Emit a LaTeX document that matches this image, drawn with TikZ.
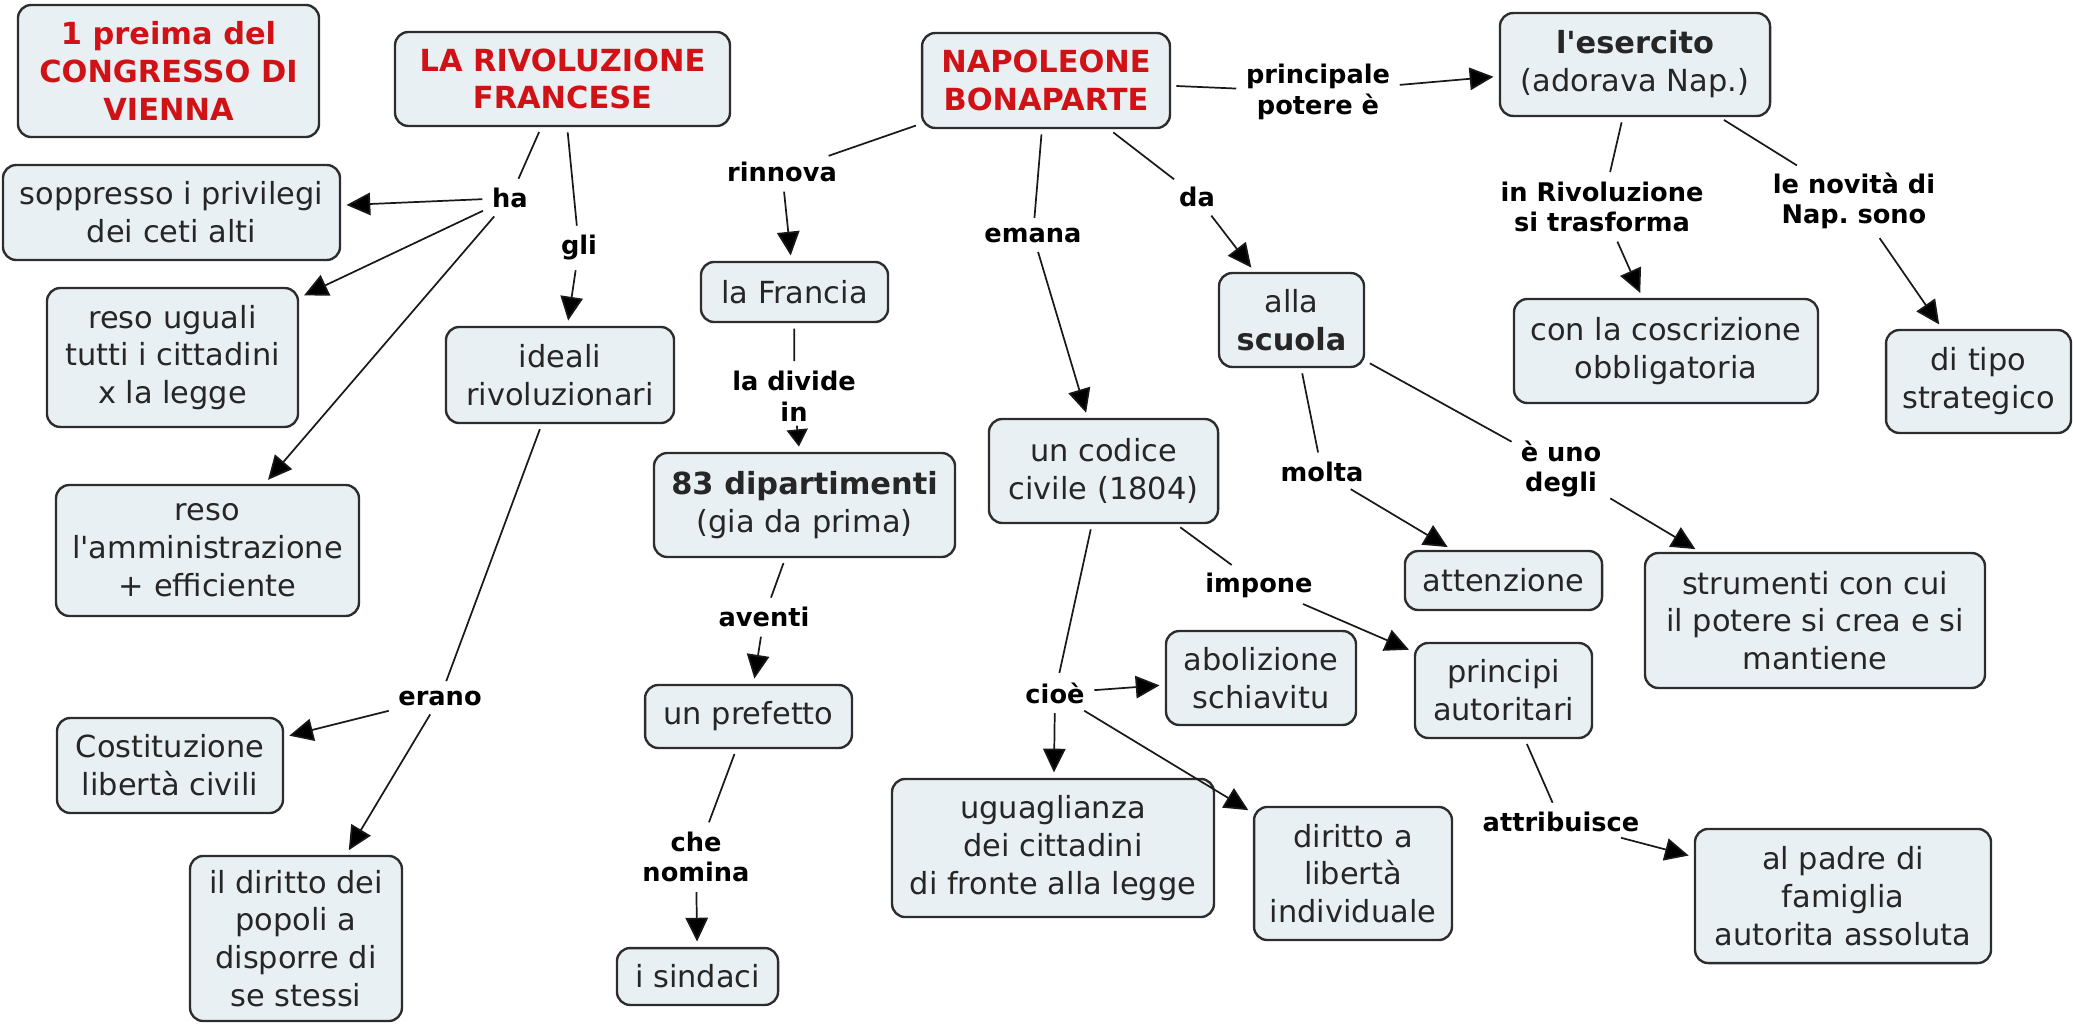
\documentclass[tikz,border=0pt]{standalone}
\usepackage{fontspec}
\setmainfont{DejaVu Sans}
\usetikzlibrary{arrows.meta}
\definecolor{cmapfill}{RGB}{233,240,244}
\definecolor{cmapred}{RGB}{208,18,22}
\definecolor{cmapline}{RGB}{45,45,45}

\begin{document}
\begin{tikzpicture}[x=0.378pt, y=-0.378pt,
    concept/.style={draw=cmapline, fill=cmapfill, line width=0.9pt, rounded corners=5pt,
        align=center, inner sep=2pt, text=black!85, font=\fontsize{11.5}{14.3}\selectfont},
    topic/.style={concept, text=cmapred, font=\fontsize{11.5}{14.3}\selectfont\bfseries},
    linkname/.style={align=center, inner sep=1.5pt, font=\fontsize{9.7}{11.6}\selectfont\bfseries},
    link/.style={draw=black!90, line width=0.65pt, shorten <=2pt, shorten >=2pt},
    linkarrow/.style={link, -{Triangle[length=9pt, width=8.5pt]}}]
    \useasboundingbox (0,0) rectangle (2073,1024);

    \node[topic, minimum width=113.8pt, minimum height=49.9pt] (preima) at (168.5,71) {1 preima del\\CONGRESSO DI\\VIENNA};
    \node[topic, minimum width=126.6pt, minimum height=35.5pt] (rivfr) at (562.5,79) {LA RIVOLUZIONE\\FRANCESE};
    \node[topic, minimum width=93.7pt, minimum height=35.9pt] (napo) at (1046,80.5) {NAPOLEONE\\BONAPARTE};
    \node[concept, minimum width=102.1pt, minimum height=38.9pt] (esercito) at (1635,64.5) {\textbf{l\textquotesingle esercito}\\(adorava Nap.)};

    \node[concept, minimum width=127.4pt, minimum height=35.9pt] (sopp) at (171.5,212.5) {soppresso i privilegi\\dei ceti alti};
    \node[concept, minimum width=94.9pt, minimum height=52.5pt] (uguali) at (172.5,357.5) {reso uguali\\tutti i cittadini\\x la legge};
    \node[concept, minimum width=114.5pt, minimum height=49.5pt] (ammin) at (207.5,550.5) {reso\\l\textquotesingle amministrazione\\+ efficiente};
    \node[concept, minimum width=86.2pt, minimum height=36.3pt] (ideali) at (560,375) {ideali\\rivoluzionari};
    \node[concept, minimum width=85.4pt, minimum height=35.9pt] (costit) at (170,765.5) {Costituzione\\libertà civili};
    \node[concept, minimum width=80.1pt, minimum height=62.4pt] (popoli) at (296,938.5) {il diritto dei\\popoli a\\disporre di\\se stessi};

    \node[concept, minimum width=70.7pt, minimum height=22.7pt] (francia) at (794.5,292) {la Francia};
    \node[concept, minimum width=113.8pt, minimum height=39.3pt] (dip) at (804.5,505) {\textbf{83 dipartimenti}\\(gia da prima)};
    \node[concept, minimum width=78.2pt, minimum height=23.8pt] (prefetto) at (748.5,716.5) {un prefetto};
    \node[concept, minimum width=60.9pt, minimum height=21.5pt] (sindaci) at (697.5,976.5) {i sindaci};

    \node[concept, minimum width=86.6pt, minimum height=39.3pt] (codice) at (1103.5,471) {un codice\\civile (1804)};
    \node[concept, minimum width=71.8pt, minimum height=35.5pt] (abol) at (1261,678) {abolizione\\schiavitu};
    \node[concept, minimum width=121.7pt, minimum height=52.2pt] (uguagl) at (1053,848) {uguaglianza\\dei cittadini\\di fronte alla legge};
    \node[concept, minimum width=74.8pt, minimum height=50.3pt] (liberta) at (1353,873.5) {diritto a\\libertà\\individuale};
    \node[concept, minimum width=66.9pt, minimum height=35.9pt] (princ) at (1503.5,690.5) {principi\\autoritari};
    \node[concept, minimum width=111.9pt, minimum height=50.7pt] (padre) at (1843,896) {al padre di\\famiglia\\autorita assoluta};

    \node[concept, minimum width=54.8pt, minimum height=35.5pt] (scuola) at (1291.5,320) {alla\\\textbf{scuola}};
    \node[concept, minimum width=74.5pt, minimum height=22.3pt] (attenz) at (1503.5,580.5) {attenzione};
    \node[concept, minimum width=128.5pt, minimum height=51pt] (strum) at (1815,620.5) {strumenti con cui\\il potere si crea e si\\mantiene};
    \node[concept, minimum width=114.9pt, minimum height=39.3pt] (coscr) at (1666,351) {con la coscrizione\\obbligatoria};
    \node[concept, minimum width=69.9pt, minimum height=38.9pt] (strateg) at (1978.5,381.5) {di tipo\\strategico};

    \node[linkname] (ha) at (510,198) {ha};
    \node[linkname] (gli) at (579,248) {gli};
    \node[linkname] (erano) at (440,698) {erano};
    \node[linkname] (rinnova) at (782,172) {rinnova};
    \node[linkname] (divide) at (794,396) {la divide\\in};
    \node[linkname] (aventi) at (764,617) {aventi};
    \node[linkname] (nomina) at (696,857) {che\\nomina};
    \node[linkname] (emana) at (1033,235) {emana};
    \node[linkname] (da) at (1197,197) {da};
    \node[linkname] (potere) at (1318,92) {principale\\potere è};
    \node[linkname] (trasforma) at (1602,207) {in Rivoluzione\\si trasforma};
    \node[linkname] (novita) at (1854,201) {le novità di\\Nap.\ sono};
    \node[linkname] (molta) at (1322,472) {molta};
    \node[linkname] (uno) at (1561,469) {è uno\\degli};
    \node[linkname] (impone) at (1259,585) {impone};
    \node[linkname] (cioe) at (1055,693) {cioè};
    \node[linkname] (attrib) at (1561,822) {attribuisce};

    \path[link]
        (rivfr) edge (ha)
        (rivfr) edge (gli)
        (ideali) edge (erano)
        (napo) edge (rinnova)
        (francia) edge (divide)
        (dip) edge (aventi)
        (prefetto) edge (nomina)
        (napo) edge (emana)
        (napo) edge (da)
        (napo) edge (potere)
        (esercito) edge (trasforma)
        (esercito) edge (novita)
        (scuola) edge (molta)
        (scuola) edge (uno)
        (codice) edge (impone)
        (codice) edge (cioe)
        (princ) edge (attrib);

    \path[linkarrow]
        (ha) edge (sopp)
        (ha) edge (uguali)
        (ha) edge (ammin)
        (gli) edge (ideali)
        (erano) edge (costit)
        (erano) edge (popoli)
        (rinnova) edge (francia)
        (divide) edge[shorten <=0pt, -{Triangle[length=6.5pt, width=8pt]}] (dip)
        (aventi) edge (prefetto)
        (nomina) edge (sindaci)
        (emana) edge (codice)
        (da) edge (scuola)
        (potere) edge (esercito)
        (trasforma) edge (coscr)
        (novita) edge (strateg)
        (molta) edge (attenz)
        (uno) edge (strum)
        (impone) edge (princ)
        (cioe) edge (abol)
        (cioe) edge (uguagl)
        (cioe) edge (liberta)
        (attrib) edge (padre);
\end{tikzpicture}
\end{document}
